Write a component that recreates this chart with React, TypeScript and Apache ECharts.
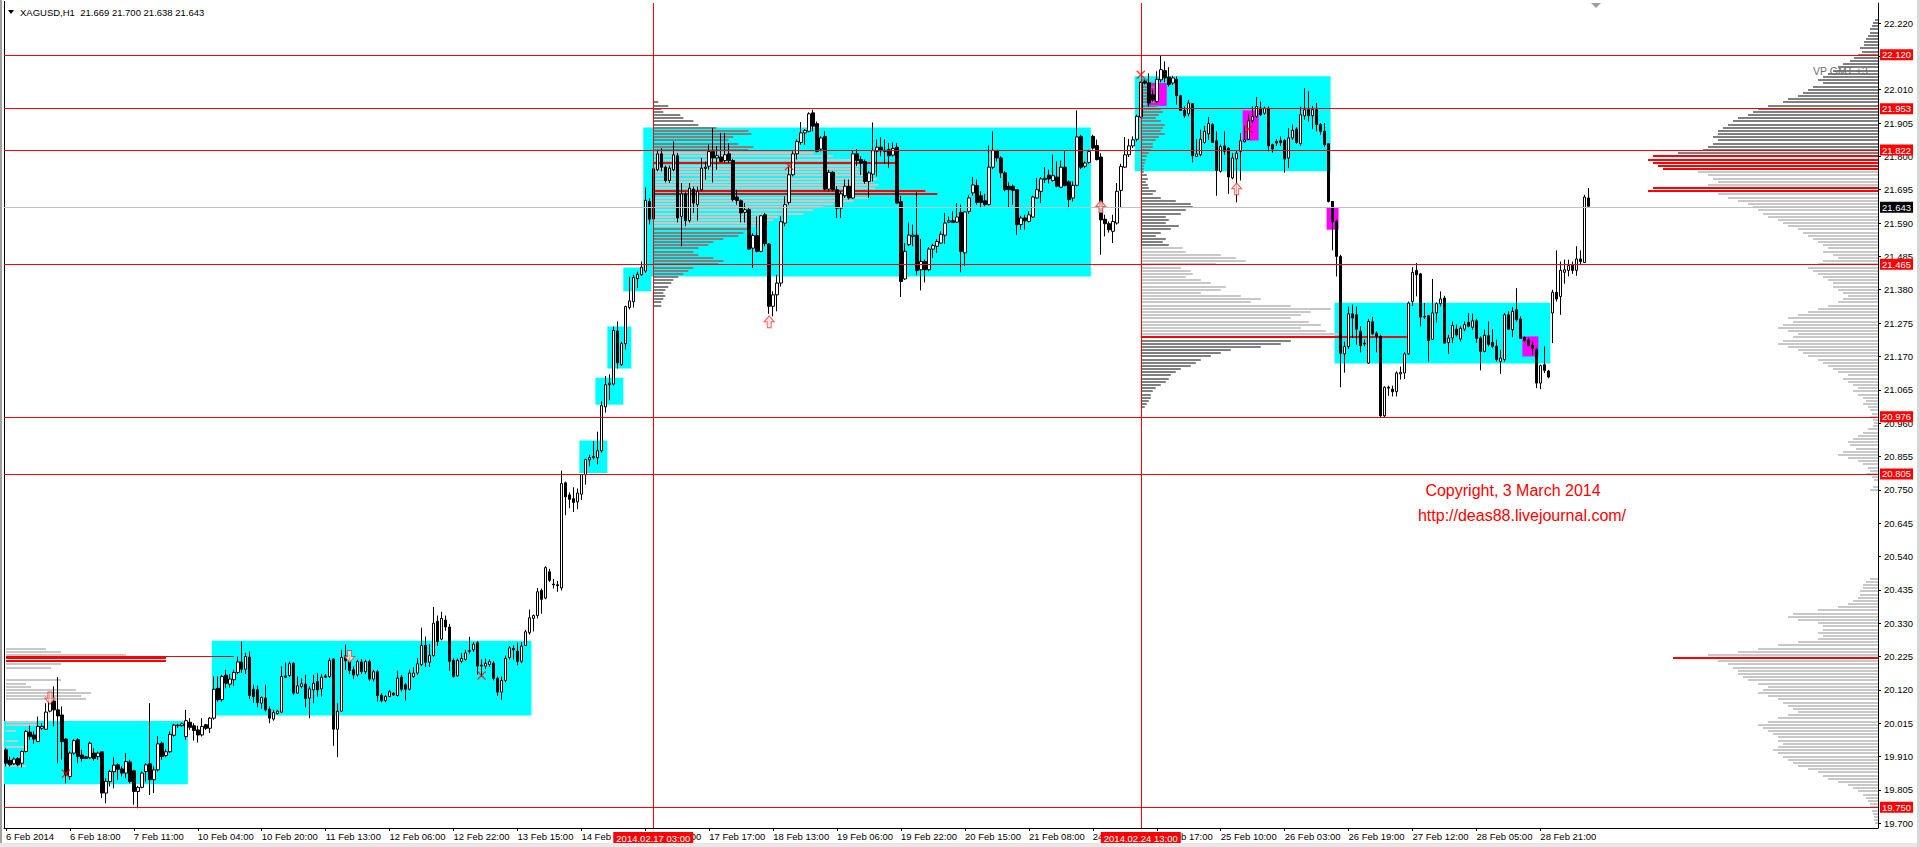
import React, { useEffect, useRef } from 'react';
import * as echarts from 'echarts';

const FONT = '"Liberation Sans", Arial, sans-serif';

const symbolName = 'XAGUSD,H1';
const lastQuote = [21.669, 21.7, 21.638, 21.643];
const vpLabel = 'VP GMT +3';
const copyrightLines = ['Copyright, 3 March 2014', 'http://deas88.livejournal.com/'];

const timeLabels = [
  '6 Feb 2014', '6 Feb 18:00', '7 Feb 11:00', '10 Feb 04:00', '10 Feb 20:00', '11 Feb 13:00',
  '12 Feb 06:00', '12 Feb 22:00', '13 Feb 15:00', '14 Feb 08:00', '17 Feb 01:00', '17 Feb 17:00',
  '18 Feb 13:00', '19 Feb 06:00', '19 Feb 22:00', '20 Feb 15:00', '21 Feb 08:00', '24 Feb 01:00',
  '24 Feb 17:00', '25 Feb 10:00', '26 Feb 03:00', '26 Feb 19:00', '27 Feb 12:00', '28 Feb 05:00',
  '28 Feb 21:00',
];
const labelEvery = 16;
const totalSlots = 469;

// [open, high, low, close]
const bars = [
  [19.931,19.936,19.879,19.889],[19.898,19.910,19.879,19.884],[19.887,19.908,19.883,19.902],[19.904,19.908,19.879,19.884],
  [19.889,19.929,19.876,19.926],[19.926,19.994,19.923,19.989],[19.987,20.007,19.963,19.973],[19.978,19.989,19.950,19.965],
  [19.957,20.036,19.957,20.005],[19.999,20.015,19.994,20.005],[19.996,20.078,19.994,20.050],[20.053,20.110,20.049,20.093],
  [20.085,20.131,20.005,20.057],[20.057,20.160,19.889,20.038],[20.041,20.068,19.900,19.957],[19.965,19.968,19.826,19.852],
  [19.847,19.926,19.837,19.921],[19.921,19.965,19.916,19.960],[19.963,19.968,19.889,19.910],[19.915,19.931,19.894,19.904],
  [19.909,19.912,19.902,19.904],[19.906,19.957,19.902,19.952],[19.921,19.936,19.897,19.904],[19.910,19.926,19.900,19.921],
  [19.925,19.926,19.779,19.795],[19.795,19.842,19.763,19.832],[19.831,19.868,19.816,19.863],[19.862,19.908,19.810,19.883],
  [19.884,19.889,19.837,19.870],[19.871,19.879,19.847,19.858],[19.858,19.921,19.842,19.894],[19.893,19.900,19.826,19.831],
  [19.865,19.868,19.758,19.800],[19.800,19.818,19.747,19.813],[19.813,19.863,19.810,19.858],[19.863,19.889,19.831,19.884],
  [19.887,20.078,19.789,19.837],[19.837,19.879,19.795,19.868],[19.868,19.975,19.863,19.950],[19.952,19.957,19.900,19.910],
  [19.913,19.933,19.908,19.925],[19.925,19.989,19.921,19.980],[19.977,20.013,19.973,20.009],[20.007,20.013,20.000,20.009],
  [20.007,20.017,20.005,20.013],[19.973,20.057,19.963,20.023],[20.018,20.031,19.994,20.002],[20.007,20.015,19.960,19.992],
  [19.994,20.007,19.954,19.978],[19.978,20.031,19.973,20.005],[20.010,20.013,19.994,19.999],[19.999,20.034,19.984,20.031],
  [20.031,20.162,20.026,20.122],[20.125,20.162,20.083,20.089],[20.089,20.167,20.083,20.162],[20.166,20.183,20.125,20.141],
  [20.138,20.170,20.127,20.154],[20.152,20.183,20.133,20.175],[20.175,20.225,20.170,20.208],[20.208,20.272,20.173,20.185],
  [20.185,20.236,20.170,20.225],[20.223,20.241,20.091,20.102],[20.122,20.136,20.080,20.099],[20.120,20.133,20.065,20.080],
  [20.078,20.099,20.061,20.096],[20.094,20.136,20.052,20.057],[20.059,20.068,20.015,20.031],[20.028,20.057,20.023,20.049],
  [20.045,20.057,20.043,20.053],[20.050,20.194,20.047,20.162],[20.164,20.206,20.157,20.160],[20.165,20.209,20.160,20.202],
  [20.204,20.206,20.104,20.110],[20.110,20.162,20.107,20.133],[20.131,20.157,20.125,20.139],[20.138,20.167,20.065,20.093],
  [20.094,20.131,20.031,20.123],[20.120,20.167,20.078,20.141],[20.146,20.173,20.099,20.120],[20.123,20.170,20.099,20.160],
  [20.164,20.170,20.157,20.160],[20.162,20.220,20.157,20.212],[20.217,20.220,19.944,19.996],[19.996,20.078,19.908,20.053],
  [20.053,20.246,20.052,20.222],[20.227,20.262,20.183,20.212],[20.214,20.230,20.170,20.181],[20.183,20.194,20.154,20.167],
  [20.167,20.215,20.162,20.209],[20.208,20.217,20.170,20.178],[20.177,20.215,20.170,20.209],[20.209,20.215,20.149,20.154],
  [20.154,20.183,20.146,20.177],[20.177,20.183,20.083,20.102],[20.103,20.110,20.081,20.086],[20.086,20.104,20.081,20.099],
  [20.099,20.120,20.097,20.114],[20.110,20.112,20.101,20.104],[20.102,20.181,20.099,20.157],[20.160,20.167,20.115,20.122],
  [20.136,20.141,20.086,20.122],[20.122,20.183,20.118,20.173],[20.162,20.191,20.157,20.173],[20.173,20.220,20.167,20.202],
  [20.200,20.316,20.195,20.260],[20.260,20.288,20.192,20.207],[20.207,20.264,20.192,20.228],[20.228,20.381,20.224,20.330],
  [20.336,20.354,20.258,20.272],[20.280,20.366,20.276,20.345],[20.340,20.354,20.306,20.318],[20.318,20.328,20.180,20.210],
  [20.213,20.219,20.159,20.162],[20.164,20.219,20.162,20.213],[20.210,20.236,20.204,20.219],[20.216,20.246,20.212,20.236],
  [20.241,20.287,20.234,20.244],[20.246,20.270,20.240,20.264],[20.268,20.274,20.168,20.195],[20.198,20.216,20.162,20.195],
  [20.195,20.219,20.186,20.204],[20.200,20.216,20.192,20.209],[20.204,20.210,20.150,20.156],[20.156,20.162,20.101,20.113],
  [20.113,20.162,20.089,20.150],[20.150,20.228,20.144,20.219],[20.222,20.258,20.216,20.252],[20.250,20.260,20.216,20.246],
  [20.242,20.268,20.198,20.210],[20.210,20.270,20.204,20.258],[20.260,20.309,20.258,20.303],[20.300,20.373,20.294,20.347],
  [20.345,20.357,20.304,20.354],[20.354,20.441,20.345,20.429],[20.433,20.439,20.360,20.405],[20.409,20.509,20.405,20.505],
  [20.492,20.501,20.460,20.465],[20.453,20.469,20.439,20.451],[20.451,20.463,20.429,20.448],[20.441,20.810,20.433,20.770],
  [20.772,20.776,20.670,20.728],[20.734,20.742,20.692,20.720],[20.722,20.758,20.680,20.710],[20.712,20.754,20.689,20.740],
  [20.736,20.799,20.718,20.798],[20.797,20.848,20.766,20.845],[20.844,20.860,20.824,20.851],[20.851,20.903,20.846,20.855],
  [20.851,20.933,20.830,20.873],[20.873,21.029,20.867,21.015],[21.011,21.108,20.993,21.081],[21.081,21.114,21.032,21.086],
  [21.083,21.264,21.078,21.252],[21.250,21.280,21.132,21.150],[21.144,21.216,21.140,21.210],[21.210,21.330,21.192,21.327],
  [21.324,21.421,21.318,21.345],[21.342,21.427,21.324,21.418],[21.415,21.437,21.385,21.429],[21.427,21.469,21.424,21.451],
  [21.439,21.702,21.433,21.662],[21.658,21.668,21.586,21.602],[21.603,21.765,21.600,21.761],[21.758,21.821,21.753,21.808],
  [21.808,21.826,21.753,21.766],[21.766,21.771,21.718,21.724],[21.724,21.771,21.716,21.763],[21.758,21.847,21.753,21.805],
  [21.802,21.811,21.592,21.606],[21.611,21.716,21.517,21.682],[21.682,21.687,21.580,21.598],[21.598,21.716,21.592,21.700],
  [21.697,21.705,21.622,21.653],[21.648,21.705,21.598,21.690],[21.695,21.795,21.690,21.763],[21.762,21.784,21.727,21.766],
  [21.769,21.837,21.758,21.815],[21.815,21.889,21.718,21.795],[21.795,21.832,21.758,21.802],[21.798,21.874,21.781,21.784],
  [21.787,21.874,21.779,21.805],[21.808,21.842,21.779,21.787],[21.787,21.792,21.658,21.664],[21.672,21.695,21.648,21.661],
  [21.660,21.664,21.592,21.622],[21.624,21.653,21.592,21.632],[21.632,21.637,21.506,21.508],[21.511,21.558,21.448,21.551],
  [21.550,21.611,21.498,21.501],[21.501,21.613,21.498,21.613],[21.616,21.622,21.517,21.525],[21.524,21.527,21.304,21.328],
  [21.328,21.375,21.296,21.364],[21.364,21.427,21.312,21.401],[21.401,21.611,21.390,21.594],[21.590,21.674,21.580,21.648],
  [21.655,21.768,21.648,21.742],[21.742,21.816,21.737,21.808],[21.808,21.853,21.790,21.847],[21.844,21.908,21.837,21.874],
  [21.874,21.886,21.837,21.882],[21.879,21.939,21.876,21.934],[21.937,21.947,21.879,21.895],[21.903,21.910,21.813,21.816],
  [21.823,21.863,21.816,21.858],[21.863,21.879,21.693,21.697],[21.697,21.758,21.690,21.750],[21.750,21.753,21.690,21.695],
  [21.695,21.706,21.606,21.637],[21.637,21.690,21.606,21.682],[21.676,21.727,21.669,21.706],[21.706,21.727,21.664,21.669],
  [21.669,21.819,21.666,21.808],[21.808,21.823,21.769,21.787],[21.790,21.800,21.742,21.779],[21.784,21.790,21.714,21.721],
  [21.721,21.753,21.669,21.748],[21.744,21.907,21.721,21.818],[21.816,21.853,21.737,21.829],[21.829,21.861,21.800,21.818],
  [21.819,21.853,21.777,21.816],[21.821,21.842,21.763,21.802],[21.804,21.844,21.800,21.825],[21.829,21.842,21.651,21.653],
  [21.657,21.676,21.357,21.406],[21.414,21.527,21.411,21.501],[21.522,21.592,21.517,21.552],[21.548,21.585,21.517,21.552],
  [21.552,21.687,21.427,21.441],[21.443,21.540,21.378,21.469],[21.469,21.475,21.403,21.443],[21.443,21.514,21.438,21.508],
  [21.508,21.525,21.480,21.519],[21.517,21.540,21.496,21.532],[21.527,21.564,21.525,21.555],[21.552,21.622,21.525,21.590],
  [21.593,21.611,21.590,21.597],[21.597,21.627,21.590,21.592],[21.593,21.653,21.590,21.609],[21.624,21.648,21.435,21.501],
  [21.496,21.627,21.456,21.625],[21.627,21.679,21.619,21.669],[21.685,21.735,21.676,21.710],[21.708,21.727,21.648,21.655],
  [21.676,21.690,21.637,21.655],[21.660,21.682,21.643,21.648],[21.648,21.834,21.646,21.766],[21.766,21.879,21.760,21.819],
  [21.819,21.819,21.784,21.795],[21.795,21.800,21.732,21.748],[21.748,21.753,21.690,21.695],[21.706,21.718,21.637,21.695],
  [21.706,21.711,21.648,21.693],[21.695,21.697,21.553,21.585],[21.585,21.613,21.569,21.606],[21.606,21.616,21.569,21.597],
  [21.595,21.627,21.592,21.616],[21.609,21.676,21.606,21.672],[21.669,21.732,21.666,21.695],[21.690,21.735,21.653,21.729],
  [21.727,21.766,21.716,21.731],[21.741,21.758,21.714,21.729],[21.724,21.805,21.721,21.739],[21.735,21.784,21.703,21.706],
  [21.703,21.787,21.700,21.766],[21.766,21.816,21.706,21.708],[21.720,21.724,21.637,21.664],[21.669,21.721,21.658,21.709],
  [21.709,21.945,21.706,21.861],[21.863,21.868,21.760,21.766],[21.769,21.784,21.763,21.779],[21.781,21.821,21.777,21.815],
  [21.863,21.868,21.821,21.826],[21.834,21.853,21.787,21.790],[21.798,21.810,21.490,21.600],[21.602,21.616,21.548,21.588],
  [21.588,21.595,21.560,21.569],[21.564,21.616,21.527,21.595],[21.590,21.716,21.585,21.690],[21.693,21.777,21.637,21.768],
  [21.766,21.861,21.763,21.805],[21.805,21.855,21.798,21.833],[21.833,21.863,21.826,21.852],[21.854,21.931,21.847,21.926],
  [21.924,22.036,21.921,22.033],[22.036,22.041,22.026,22.031],[22.031,22.062,21.957,21.968],[21.994,22.010,21.973,21.978],
  [21.973,22.068,21.968,22.043],[22.041,22.117,22.033,22.073],[22.070,22.099,22.033,22.047],[22.050,22.081,22.020,22.026],
  [22.031,22.054,22.026,22.047],[22.043,22.052,21.963,21.991],[21.991,21.994,21.945,21.945],[21.945,21.957,21.921,21.928],
  [21.934,21.978,21.926,21.968],[21.966,21.968,21.781,21.802],[21.800,21.854,21.798,21.808],[21.805,21.884,21.800,21.854],
  [21.844,21.896,21.840,21.879],[21.871,21.924,21.852,21.903],[21.900,21.905,21.842,21.844],[21.849,21.879,21.676,21.756],
  [21.753,21.837,21.749,21.831],[21.833,21.879,21.805,21.816],[21.826,21.829,21.682,21.735],[21.732,21.810,21.728,21.795],
  [21.792,21.819,21.655,21.810],[21.816,21.873,21.724,21.849],[21.846,21.894,21.844,21.852],[21.854,21.934,21.852,21.912],
  [21.912,21.957,21.905,21.926],[21.926,21.987,21.921,21.957],[21.952,21.973,21.928,21.931],[21.936,21.957,21.931,21.952],
  [21.952,21.957,21.816,21.833],[21.837,21.840,21.812,21.823],[21.847,21.854,21.833,21.842],[21.849,21.863,21.833,21.844],
  [21.850,21.854,21.749,21.792],[21.795,21.889,21.763,21.858],[21.858,21.900,21.852,21.882],[21.886,21.892,21.840,21.844],
  [21.840,21.957,21.833,21.931],[21.928,22.015,21.915,21.947],[21.947,22.005,21.910,21.928],[21.928,21.959,21.886,21.947],
  [21.947,21.968,21.879,21.900],[21.900,21.905,21.868,21.879],[21.879,21.905,21.831,21.837],[21.840,21.840,21.655,21.658],
  [21.658,21.658,21.504,21.595],[21.595,21.600,21.422,21.485],[21.485,21.490,21.073,21.180],[21.178,21.217,21.119,21.201],
  [21.201,21.327,21.193,21.304],[21.304,21.333,21.228,21.291],[21.301,21.327,21.207,21.256],[21.249,21.265,21.183,21.204],
  [21.212,21.223,21.202,21.209],[21.149,21.288,21.147,21.280],[21.279,21.294,21.238,21.241],[21.243,21.249,21.183,21.233],
  [21.233,21.238,20.976,20.983],[20.983,21.076,20.979,21.073],[21.070,21.078,21.046,21.073],[21.067,21.078,21.044,21.059],
  [21.059,21.123,21.044,21.118],[21.115,21.138,21.097,21.120],[21.118,21.183,21.099,21.178],[21.178,21.343,21.175,21.338],
  [21.343,21.451,21.329,21.435],[21.441,21.464,21.359,21.427],[21.430,21.433,21.265,21.294],[21.294,21.338,21.288,21.296],
  [21.298,21.301,21.154,21.220],[21.224,21.414,21.222,21.307],[21.307,21.340,21.277,21.336],[21.336,21.375,21.328,21.351],
  [21.354,21.361,21.210,21.212],[21.214,21.238,21.178,21.228],[21.228,21.280,21.212,21.267],[21.256,21.270,21.233,21.238],
  [21.225,21.265,21.217,21.259],[21.256,21.280,21.249,21.270],[21.277,21.307,21.262,21.265],[21.262,21.305,21.254,21.282],
  [21.282,21.288,21.212,21.227],[21.228,21.233,21.126,21.186],[21.186,21.254,21.183,21.237],[21.235,21.280,21.202,21.208],
  [21.214,21.256,21.196,21.202],[21.202,21.223,21.154,21.160],[21.154,21.191,21.115,21.165],[21.160,21.307,21.154,21.301],
  [21.301,21.312,21.254,21.256],[21.254,21.325,21.231,21.312],[21.317,21.385,21.280,21.286],[21.288,21.296,21.226,21.227],
  [21.229,21.233,21.217,21.220],[21.222,21.228,21.202,21.205],[21.205,21.217,21.175,21.196],[21.191,21.196,21.070,21.086],
  [21.086,21.144,21.067,21.141],[21.144,21.202,21.118,21.126],[21.124,21.128,21.101,21.105],[21.307,21.380,21.212,21.372],
  [21.372,21.504,21.343,21.351],[21.359,21.469,21.301,21.441],[21.435,21.475,21.399,21.443],[21.441,21.475,21.422,21.456],
  [21.459,21.469,21.430,21.441],[21.441,21.517,21.424,21.477],[21.477,21.504,21.459,21.469],[21.466,21.679,21.464,21.672],
  [21.669,21.700,21.638,21.643],
];

const yTicks = [
  19.7, 19.805, 19.91, 20.015, 20.12, 20.225, 20.33, 20.435, 20.54, 20.645, 20.75, 20.855, 20.96,
  21.065, 21.17, 21.275, 21.38, 21.485, 21.59, 21.695, 21.8, 21.905, 22.01, 22.115, 22.22,
];
const yMin = 19.685;
const yMax = 22.283;

const levelLines = [22.12, 21.953, 21.822, 21.465, 20.976, 20.805, 19.75];
const currentPrice = 21.643;
const pocLevel = 20.225;
const pocBars = [0, 57];
const sessionBars = [162, 284];
const sessionLabels = ['2014.02.17 03:00', '2014.02.24 13:00'];

// [firstBar, lastBar, lowPrice, highPrice]
const cyanBoxes = [
  [0, 45, 19.823, 20.022], [52, 131, 20.039, 20.275], [144, 150, 20.803, 20.905],
  [148, 154, 21.018, 21.103], [151, 156, 21.132, 21.264], [155, 161, 21.375, 21.45],
  [160, 271, 21.422, 21.891], [283, 331, 21.753, 22.052], [333, 386, 21.148, 21.339],
];
const magentaBoxes = [
  [286, 290, 21.959, 22.031], [310, 313, 21.85, 21.945], [331, 333, 21.569, 21.639], [380, 383, 21.17, 21.233],
];

const profileStep = 0.01;
// right-edge volume profile, from 22.23 downward
const rightProfileTop = 22.23;
const rightProfile = [
  3,5,6,8, 8,10,12,14, 14,18,16,20, 24,28,35,40, 45,50,55,60, 55,65,70,75, 80,90,95,110,
  120,125,130,140, 145,150,155,160, 160,165,160,165, 170,175,200,225, 230,225,220,215,
  180,170,165,160, 170,225,230,160, 150,140,130,125, 120,115,110,100, 95,90,80,75,
  70,65,60,55, 50,55,45,40, 55,60,70,65, 60,55,50,45, 45,40,35,30, 35,40,50,60,
  70,80,90,85, 95,100,90,80, 85,95,100,90, 80,75,70,60, 55,50,45,40, 30,35,30,25,
  20,25,20,15, 12,15,10,8, 6,8,5,4, 5,10,15,20, 25,30,28,22, 35,40,30,20, 15,10,8,12,
  6,4,0,5, 8,0,0,0, 0,0,0,0, 0,0,0,0, 0,0,0,0, 0,0,0,0, 0,0,0,0, 0,0,0,0,
  8,12,15,15, 18,18,20,25, 30,40,60,85, 90,80,60,55, 55,60,55,60, 80,100,120,140,
  170,205,160,150, 145,140,140,135, 130,120,110,115, 120,110,100,95, 90,85,80,90,
  100,110,120,115, 110,105,100,100, 95,100,105,100, 95,90,85,80, 70,60,55,50,
  40,30,25,20, 15,12,10,8, 8,6,5,4, 4,3,
];
const rightProfileRed = [21.8, 21.79, 21.78, 21.77, 21.76, 21.7, 21.69, 20.22];
const rightProfileDarkAbove = 21.805;

const profileABar = 162;
const profileATop = 21.97;
const profileA = [
  5,15,8,10, 27,30,40,45, 63,95,98,80, 75,85,100,95, 160,180,200,243, 207,205,210,220,
  224,220,225,222, 272,284,215,200, 180,170,160,150, 125,120,115,110, 95,90,85,70,
  60,55,45,40, 45,60,70,65, 40,35,30,25, 20,18,15,12, 10,12,10,8, 8,
];
const profileARed = [21.78, 21.69, 21.68];
const profileALight = [21.575, 21.815];

const profileBBar = 284;
const profileBTop = 22.04;
const profileB = [
  8,12,15,10, 12,15,18,14, 16,20,22,18, 15,20,24,22, 20,24,18,15, 12,12,10,8, 6,5,4,3,
  3,3,6,7, 5,7,8,15, 12,20,35,50, 52,45,40,25, 28,25,38,30, 20,15,25,22, 28,42,45,80,
  95,105,75,40, 50,52,45,60, 70,85,80,60, 100,120,110,150, 190,170,160,150, 168,180,160,185,
  200,266,150,140, 120,90,80,70, 60,55,50,40, 35,30,28,25, 20,15,12,10, 10,8,6,4,
];
const profileBRed = [21.23];
const profileBLight = [21.235, 21.515];

const profileLBar = 0;
const profileLTop = 20.25;
const profileL = [
  40,55,120,160, 160,55,45,0, 0,0,55,20, 25,70,85,75, 80,0,0,0, 0,0,0,30, 30,0,10,0,
  0,12,0,18, 0,0,0,0, 0,20,0,0,
];
const profileLRed = [20.22, 20.21];

const upArrows = [[191, 21.279], [274, 21.642], [308, 21.698]];
const downArrows = [[11, 20.094], [86, 20.225]];
const crossMarks = [[15, 19.856], [119, 20.165], [196, 21.77], [284, 22.057], [311, 21.886]];

const DARK = '#808080';
const LIGHT = '#c8c8c8';
const RED = '#ff0000';

const near = (a: number, b: number) => Math.abs(a - b) < 0.001;

function profileData(rows: number[], top: number, bar: number, red: number[], isLight: (p: number) => boolean) {
  return rows
    .map((v, i) => {
      const p = +(top - i * profileStep).toFixed(3);
      const code = red.some((r) => near(r, p)) ? 2 : isLight(p) ? 0 : 1;
      return [bar, p, v, code];
    })
    .filter((d) => d[2] > 0);
}

function profileSeries(data: number[][], dir: number, fromRight: boolean) {
  return {
    type: 'custom',
    z: 2,
    silent: true,
    encode: { x: 0, y: 1 },
    data,
    renderItem: (params: any, api: any) => {
      const pt = api.coord([api.value(0), api.value(1)]);
      const cs = params.coordSys;
      const x0 = fromRight ? cs.x + cs.width : pt[0];
      const w = api.value(2);
      const code = api.value(3);
      const fill = code === 2 ? RED : code === 1 ? DARK : LIGHT;
      return {
        type: 'rect',
        shape: { x: dir > 0 ? x0 : x0 - w, y: Math.round(pt[1]) - 1, width: w, height: 2 },
        style: { fill },
      };
    },
  };
}

function boxSeries(boxes: number[][], color: string, z: number) {
  return {
    type: 'custom',
    z,
    silent: true,
    encode: { x: [0, 1], y: [2, 3] },
    data: boxes,
    renderItem: (params: any, api: any) => {
      const a = api.coord([api.value(0), api.value(3)]);
      const b = api.coord([api.value(1), api.value(2)]);
      const half = api.size([1, 0])[0] / 2;
      return {
        type: 'rect',
        shape: { x: a[0] - half, y: a[1], width: b[0] - a[0] + 2 * half, height: b[1] - a[1] },
        style: { fill: color },
      };
    },
  };
}

export default function App() {
  const ref = useRef<HTMLDivElement>(null);

  useEffect(() => {
    if (!ref.current) return;
    const chart = echarts.init(ref.current, undefined, { renderer: 'svg' });

    const categories = Array.from({ length: totalSlots }, (_, i) =>
      i % labelEvery === 0 && i / labelEvery < timeLabels.length ? timeLabels[i / labelEvery] : ''
    );
    const showTick = (i: number) => i % labelEvery === 0 && i / labelEvery < timeLabels.length;

    const axisLabelFont = { fontFamily: FONT, fontSize: 9.5 };
    const priceLabel = (v: number, bg: string) => ({
      show: true,
      position: 'end',
      distance: 2,
      formatter: v.toFixed(3),
      color: '#fff',
      backgroundColor: bg,
      padding: [1, 2, 0, 2],
      lineHeight: 10,
      ...axisLabelFont,
    });

    const header = `${symbolName}  ${lastQuote.map((v) => v.toFixed(3)).join(' ')}`;

    chart.setOption({
      animation: false,
      backgroundColor: '#ffffff',
      grid: { left: 4, right: 42, top: 3, bottom: 19, containLabel: false },
      xAxis: {
        type: 'category',
        data: categories,
        boundaryGap: true,
        axisLine: { show: true, lineStyle: { color: '#000', width: 1 } },
        axisTick: { show: true, interval: (i: number) => showTick(i), alignWithLabel: true, length: 3, lineStyle: { color: '#000' } },
        axisLabel: { interval: (i: number) => showTick(i), align: 'left', margin: 3, color: '#000', ...axisLabelFont },
        splitLine: { show: false },
      },
      yAxis: {
        type: 'value',
        position: 'right',
        min: yMin,
        max: yMax,
        axisLine: { show: true, lineStyle: { color: '#000', width: 1 } },
        axisTick: { show: true, length: 3, customValues: yTicks, lineStyle: { color: '#000' } },
        axisLabel: { customValues: yTicks, formatter: (v: number) => v.toFixed(3), margin: 6, color: '#000', ...axisLabelFont },
        splitLine: { show: false },
      },
      series: [
        boxSeries(cyanBoxes, '#00ffff', 1),
        boxSeries(magentaBoxes, '#ff00ff', 1),
        profileSeries(profileData(rightProfile, rightProfileTop, totalSlots - 1, rightProfileRed, (p) => p < rightProfileDarkAbove), -1, true),
        profileSeries(profileData(profileA, profileATop, profileABar, profileARed, (p) => p > profileALight[0] && p < profileALight[1]), 1, false),
        profileSeries(profileData(profileB, profileBTop, profileBBar, profileBRed, (p) => p > profileBLight[0] && p < profileBLight[1]), 1, false),
        profileSeries(profileData(profileL, profileLTop, profileLBar, profileLRed, () => true), 1, false),
        {
          type: 'line',
          data: [],
          z: 3,
          silent: true,
          markLine: {
            silent: true,
            symbol: 'none',
            animation: false,
            data: [
              {
                yAxis: currentPrice,
                lineStyle: { color: '#c0c0c0', width: 1, type: 'solid' },
                label: priceLabel(currentPrice, '#000'),
              },
            ],
          },
        },
        {
          type: 'candlestick',
          data: bars.map((b) => [b[0], b[3], b[2], b[1]]),
          barWidth: 3,
          z: 4,
          silent: true,
          itemStyle: { color: '#ffffff', color0: '#000000', borderColor: '#000000', borderColor0: '#000000', borderWidth: 1 },
        },
        {
          type: 'line',
          data: [],
          z: 6,
          silent: true,
          markLine: {
            silent: true,
            symbol: 'none',
            animation: false,
            data: [
              ...levelLines.map((v) => ({ yAxis: v, lineStyle: { color: RED, width: 1, type: 'solid' }, label: priceLabel(v, RED) })),
              ...sessionBars.map((b, i) => ({
                xAxis: b,
                lineStyle: { color: RED, width: 1, type: 'solid' },
                label: {
                  show: true,
                  position: 'start',
                  distance: 4,
                  formatter: sessionLabels[i],
                  color: '#fff',
                  backgroundColor: RED,
                  padding: [1, 3, 0, 3],
                  lineHeight: 10,
                  ...axisLabelFont,
                },
              })),
              [
                { coord: [pocBars[0], pocLevel], lineStyle: { color: RED, width: 1, type: 'solid' }, label: { show: false } },
                { coord: [pocBars[1], pocLevel] },
              ],
            ],
          },
        },
        {
          type: 'scatter',
          z: 7,
          silent: true,
          data: upArrows,
          symbol: 'path://M5,0 L10,6 L7,6 L7,12 L3,12 L3,6 L0,6 Z',
          symbolSize: [10, 12],
          itemStyle: { color: '#ffe4d8', borderColor: '#ff3030', borderWidth: 1 },
        },
        {
          type: 'scatter',
          z: 7,
          silent: true,
          data: downArrows,
          symbol: 'path://M3,0 L7,0 L7,6 L10,6 L5,12 L0,6 L3,6 Z',
          symbolSize: [10, 12],
          itemStyle: { color: '#ffe4d8', borderColor: '#ff3030', borderWidth: 1 },
        },
        {
          type: 'scatter',
          z: 7,
          silent: true,
          data: crossMarks,
          symbol: 'path://M0,1 L1,0 L5,4 L9,0 L10,1 L6,5 L10,9 L9,10 L5,6 L1,10 L0,9 L4,5 Z',
          symbolSize: 9,
          itemStyle: { color: RED },
        },
      ],
      graphic: [
        { type: 'rect', silent: true, shape: { x: 0, y: 0, width: 2, height: 847 }, style: { fill: '#a0a0a0' } },
        { type: 'rect', silent: true, shape: { x: 0, y: 843, width: 1920, height: 4 }, style: { fill: '#e8e8e8' } },
        { type: 'rect', silent: true, shape: { x: 1917, y: 0, width: 3, height: 847 }, style: { fill: '#d8d8d8' } },
        { type: 'line', silent: true, shape: { x1: 4.5, y1: 1, x2: 4.5, y2: 828 }, style: { stroke: '#000', lineWidth: 1 } },
        { type: 'polygon', silent: true, shape: { points: [[8, 10], [14, 10], [11, 14]] }, style: { fill: '#000' } },
        {
          type: 'text', silent: true, x: 20, y: 12,
          style: { text: header, fill: '#000', font: `9.5px ${FONT}`, textVerticalAlign: 'middle' },
        },
        { type: 'polygon', silent: true, shape: { points: [[1591, 3], [1601, 3], [1596, 8]] }, style: { fill: '#a0a0a0' } },
        {
          type: 'text', silent: true, x: 1813, y: 71, z: 100, zlevel: 0,
          style: { text: vpLabel, fill: '#6e6e6e', font: `10.5px ${FONT}`, textVerticalAlign: 'middle' },
        },
        {
          type: 'text', silent: true, x: 1513, y: 490, z: 100,
          style: { text: copyrightLines[0], fill: RED, font: `16px ${FONT}`, textAlign: 'center', textVerticalAlign: 'middle' },
        },
        {
          type: 'text', silent: true, x: 1522, y: 515, z: 100,
          style: { text: copyrightLines[1], fill: RED, font: `16px ${FONT}`, textAlign: 'center', textVerticalAlign: 'middle' },
        },
      ],
    });

    return () => chart.dispose();
  }, []);

  return (
    <div
      ref={ref}
      style={{ position: 'fixed', left: 0, top: 0, width: 1920, height: 847, background: '#fff' }}
    />
  );
}
